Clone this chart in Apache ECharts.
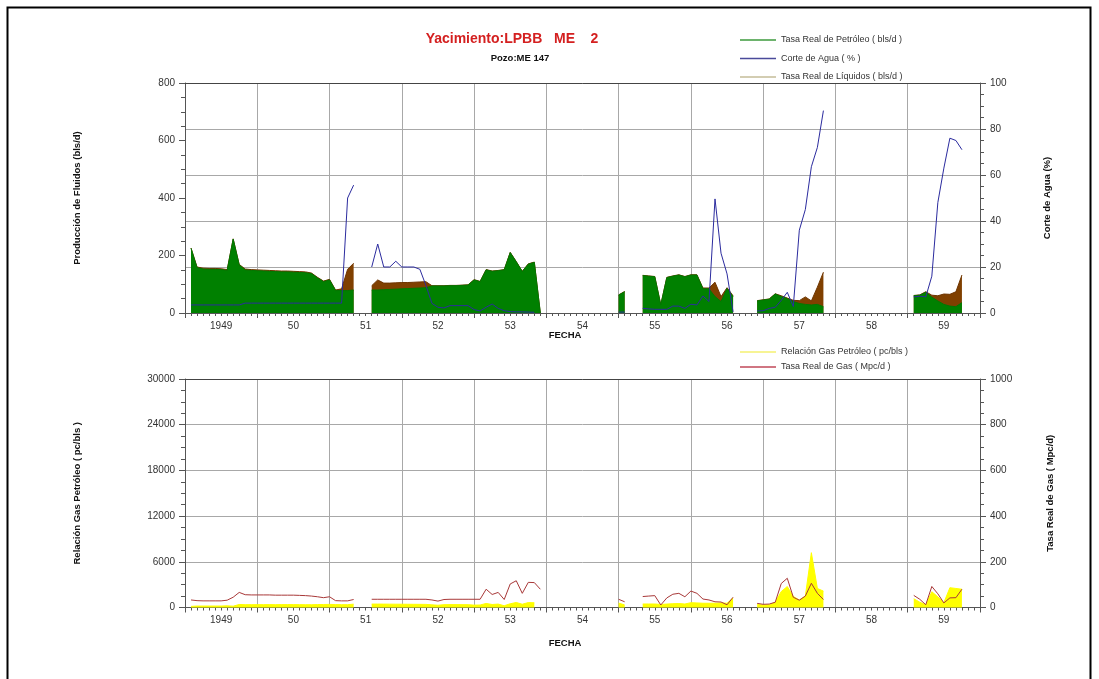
<!DOCTYPE html>
<html>
<head>
<meta charset="utf-8">
<script src="https://cdn.jsdelivr.net/npm/echarts@6/dist/echarts.min.js"></script>
<style>
html,body{margin:0;padding:0;background:#fff;}
#chart{width:1099px;height:679px;}
</style>
</head>
<body>
<div id="chart"></div>
<script>
// ---- Data ----
const yearLabels = ['1949','50','51','52','53','54','55','56','57','58','59'];

const fecha = [
 '1949-02','1949-03','1949-04','1949-05','1949-06','1949-07','1949-08','1949-09','1949-10','1949-11','1949-12',
 '1950-01','1950-02','1950-03','1950-04','1950-05','1950-06','1950-07','1950-08','1950-09','1950-10','1950-11','1950-12',
 '1951-01','1951-02','1951-03','1951-04','1951-05',
 '1951-08','1951-09','1951-10','1951-11','1951-12',
 '1952-01','1952-02','1952-03','1952-04','1952-05','1952-06','1952-07','1952-08','1952-09','1952-10','1952-11','1952-12',
 '1953-01','1953-02','1953-03','1953-04','1953-05','1953-06','1953-07','1953-08','1953-09','1953-10','1953-11','1953-12',
 '1955-01','1955-02',
 '1955-05','1955-06','1955-07','1955-08','1955-09','1955-10','1955-11','1955-12',
 '1956-01','1956-02','1956-03','1956-04','1956-05','1956-06','1956-07','1956-08',
 '1956-12','1957-01','1957-02','1957-03','1957-04','1957-05','1957-06','1957-07','1957-08','1957-09','1957-10','1957-11',
 '1959-02','1959-03','1959-04','1959-05','1959-06','1959-07','1959-08','1959-09','1959-10'
];

// Tasa Real de Petróleo (bls/d)
const petroleo = [
 225,158,153,152,152,151,148,257,167,150,148,147,146,145,144,143,143,142,141,140,137,122,109,115,78,78,78,80,
 80,80,81,82,83,84,85,86,87,88,94,94,94,95,95,96,97,115,109,150,145,147,150,210,178,144,170,176,0,
 62,74,
 130,128,126,28,123,128,132,126,132,132,84,84,57,40,85,57,
 42,45,48,66,57,50,40,33,30,28,30,22,
 60,62,72,55,42,30,24,22,36
];
// Tasa Real de Líquidos (bls/d)
const liquidos = [
 226,160,156,155,155,154,151,258,169,153,151,150,149,148,147,146,146,145,144,143,139,124,111,117,80,84,152,173,
 95,115,104,104,105,106,106,107,108,109,95,95,95,96,96,97,98,116,110,151,146,148,151,211,179,145,171,177,0,
 63,75,
 131,129,127,29,124,129,133,127,133,133,87,87,107,57,88,60,
 43,46,49,67,60,52,44,43,56,42,90,142,
 61,63,74,62,60,66,65,74,132
];
// Corte de Agua (%)
const corteAgua = [
 3.5,3.5,3.5,3.5,3.5,3.5,3.5,3.5,3.5,4.3,4.3,4.3,4.3,4.3,4.3,4.3,4.3,4.3,4.3,4.3,4.3,4.3,4.3,4.3,4.3,4.3,50,55.6,
 20,30,20,20,22.5,20,20,20,19,12,4.2,2.5,2.2,3.2,3.2,3.2,3.2,1.5,0.9,2.5,3.9,2.0,1.0,0.6,0.5,0.5,0.4,0.3,null,
 0.4,0.4,
 2.0,1.8,1.6,1.6,1.6,3.0,3.0,2.0,3.8,3.5,7.4,5.0,49.6,26,17,0.5,
 0.9,1.0,2.0,2.5,5.5,9,2.8,36,45,63.6,72,88,
 7.0,7.3,7.0,16,48,63,76,75,71
];
// Tasa Real de Gas (Mpc/d)
const gas = [
 33,30,29,29,29,29,32,45,66,56,55,55,55,55,54,54,54,54,53,52,50,47,43,47,30,29,29,35,
 36,36,36,36,36,36,36,36,36,36,33,28,35,36,36,36,36,36,36,80,57,66,35,103,117,62,110,109,80,
 36,25,
 48,50,52,11,42,58,62,47,72,62,37,33,25,24,12,45,
 18,14,15,23,105,128,45,32,50,106,62,35,
 53,36,12,92,60,20,42,43,80
];
// Relación Gas Petróleo (pc/bls)
const rgp = [
 147,190,190,191,191,192,216,175,395,373,372,374,377,379,375,378,378,380,376,371,365,385,394,409,385,372,372,438,
 450,450,444,439,434,429,424,419,414,409,351,298,372,379,379,375,371,313,330,533,393,449,233,490,657,431,647,619,null,
 580,340,
 460,460,460,400,450,500,520,460,630,600,560,560,560,600,560,1250,
 400,330,350,700,2100,2750,1450,980,1500,7200,2500,2150,
 1150,700,350,2070,1400,630,2600,2500,2400
];

// ---- Build [x, y] pairs, breaking the line where months are missing ----
function build(vals) {
  const out = [];
  let prev = null;
  fecha.forEach((f, k) => {
    const [y, m] = f.split('-').map(Number);
    const idx = y * 12 + m - 1;
    const x = y + (m - 1) / 12;
    if (prev !== null && idx - prev > 1) out.push([x - 1 / 24, '-']);
    const v = vals[k];
    out.push([x, (v === null || v === undefined) ? '-' : v]);
    prev = idx;
  });
  return out;
}

const FONT = '"Liberation Sans", Arial, sans-serif';
const AXIS_COLOR = '#555';
const GRID_COLOR = '#a8a8a8';
const LBL = { fontFamily: FONT, fontSize: 10, color: '#333' };
const NAME = { fontFamily: FONT, fontSize: 9.5, fontWeight: 'bold', color: '#111' };

function xData(grid) {
  return {
    gridIndex: grid, type: 'value', min: 1949, max: 1960, interval: 1,
    axisLine: { show: true, onZero: false, lineStyle: { color: AXIS_COLOR } },
    axisTick: { show: true, length: 5, lineStyle: { color: AXIS_COLOR } },
    minorTick: { show: true, splitNumber: 12, length: 3, lineStyle: { color: AXIS_COLOR } },
    axisLabel: { show: false },
    splitLine: { show: true, lineStyle: { color: GRID_COLOR, width: 1 } }
  };
}
function xLabels(grid) {
  return {
    gridIndex: grid, type: 'category', data: yearLabels, boundaryGap: true, position: 'bottom',
    axisLine: { show: false }, axisTick: { show: false }, splitLine: { show: false },
    axisLabel: Object.assign({ interval: 0, margin: 8 }, LBL)
  };
}
function xTopFrame(grid) {
  return {
    gridIndex: grid, type: 'value', min: 1949, max: 1960, position: 'top',
    axisLine: { show: true, onZero: false, lineStyle: { color: '#444' } },
    axisTick: { show: false }, axisLabel: { show: false }, splitLine: { show: false }
  };
}
function yAx(grid, pos, max, interval, name, gap, split) {
  return {
    gridIndex: grid, type: 'value', position: pos, min: 0, max: max, interval: interval,
    name: name, nameLocation: 'middle', nameRotate: 90, nameGap: gap, nameTextStyle: NAME,
    axisLine: { show: true, lineStyle: { color: AXIS_COLOR } },
    axisTick: { show: true, length: 6, lineStyle: { color: AXIS_COLOR } },
    minorTick: { show: true, splitNumber: 4, length: 4, lineStyle: { color: AXIS_COLOR } },
    axisLabel: Object.assign({ margin: 10, formatter: v => String(v) }, LBL),
    splitLine: { show: split, lineStyle: { color: GRID_COLOR, width: 1 } }
  };
}

const chart = echarts.init(document.getElementById('chart'), null, { renderer: 'canvas' });
chart.setOption({
  animation: false,
  backgroundColor: '#fff',
  textStyle: { fontFamily: FONT },
  grid: [
    { left: 185, right: 119, top: 83, height: 230 },
    { left: 185, right: 119, top: 379, height: 228.5 }
  ],
  xAxis: [xData(0), xLabels(0), xTopFrame(0), xData(1), xLabels(1), xTopFrame(1)],
  yAxis: [
    yAx(0, 'left', 800, 200, 'Producción de Fluidos (bls/d)', 103, false),
    yAx(0, 'right', 100, 20, 'Corte de Agua (%)', 62, true),
    yAx(1, 'left', 30000, 6000, 'Relación Gas Petróleo ( pc/bls )', 103, false),
    yAx(1, 'right', 1000, 200, 'Tasa Real de Gas ( Mpc/d)', 65, true)
  ],
  legend: [
    {
      orient: 'vertical', left: 735, top: 29, itemWidth: 36, itemHeight: 1.5, itemGap: 6.5,
      selectedMode: false,
      textStyle: { fontFamily: FONT, fontSize: 9, color: '#333', lineHeight: 12 },
      data: [
        { name: 'Tasa Real de Petróleo ( bls/d )', icon: 'rect', itemStyle: { color: '#3c9a3c' } },
        { name: 'Corte de Agua ( % )', icon: 'rect', itemStyle: { color: '#4a4a9a' } },
        { name: 'Tasa Real de Líquidos ( bls/d )', icon: 'rect', itemStyle: { color: '#c4bc98' } }
      ]
    },
    {
      orient: 'vertical', left: 735, top: 341, itemWidth: 36, itemHeight: 1.5, itemGap: 3,
      selectedMode: false,
      textStyle: { fontFamily: FONT, fontSize: 9, color: '#333', lineHeight: 12 },
      data: [
        { name: 'Relación Gas Petróleo ( pc/bls )', icon: 'rect', itemStyle: { color: '#f4f070' } },
        { name: 'Tasa Real de Gas ( Mpc/d )', icon: 'rect', itemStyle: { color: '#c04858' } }
      ]
    }
  ],
  graphic: [
    { type: 'rect', shape: { x: 7.5, y: 7.5, width: 1083, height: 700 }, style: { fill: 'none', stroke: '#000', lineWidth: 2 }, silent: true },
    { type: 'text', x: 512, y: 39, style: { text: 'Yacimiento:LPBB   ME    2', textAlign: 'center', textVerticalAlign: 'middle', font: 'bold 14px ' + FONT, fill: '#d42020' } },
    { type: 'text', x: 520, y: 58, style: { text: 'Pozo:ME 147', textAlign: 'center', textVerticalAlign: 'middle', font: 'bold 9.5px ' + FONT, fill: '#111' } },
    { type: 'text', x: 565, y: 335, style: { text: 'FECHA', textAlign: 'center', textVerticalAlign: 'middle', font: 'bold 9.5px ' + FONT, fill: '#111' } },
    { type: 'text', x: 565, y: 643, style: { text: 'FECHA', textAlign: 'center', textVerticalAlign: 'middle', font: 'bold 9.5px ' + FONT, fill: '#111' } }
  ],
  series: [
    {
      name: 'Tasa Real de Líquidos ( bls/d )', type: 'line', xAxisIndex: 0, yAxisIndex: 0,
      data: build(liquidos), symbol: 'none', connectNulls: false, z: 2,
      lineStyle: { color: '#6e3500', width: 1 }, itemStyle: { color: '#7f3f00' },
      areaStyle: { color: '#804000', opacity: 1 }
    },
    {
      name: 'Tasa Real de Petróleo ( bls/d )', type: 'line', xAxisIndex: 0, yAxisIndex: 0,
      data: build(petroleo), symbol: 'none', connectNulls: false, z: 3,
      lineStyle: { color: '#007800', width: 1 }, itemStyle: { color: '#008000' },
      areaStyle: { color: '#008000', opacity: 1 }
    },
    {
      name: 'Corte de Agua ( % )', type: 'line', xAxisIndex: 0, yAxisIndex: 1,
      data: build(corteAgua), symbol: 'none', connectNulls: false, z: 4,
      lineStyle: { color: '#2b2b9e', width: 1 }, itemStyle: { color: '#2b2b9e' }
    },
    {
      name: 'Relación Gas Petróleo ( pc/bls )', type: 'line', xAxisIndex: 3, yAxisIndex: 2,
      data: build(rgp), symbol: 'none', connectNulls: false, z: 2,
      lineStyle: { color: '#ffff00', width: 1 }, itemStyle: { color: '#ffff00' },
      areaStyle: { color: '#ffff00', opacity: 1 }
    },
    {
      name: 'Tasa Real de Gas ( Mpc/d )', type: 'line', xAxisIndex: 3, yAxisIndex: 3,
      data: build(gas), symbol: 'none', connectNulls: false, z: 3,
      lineStyle: { color: '#a83838', width: 1 }, itemStyle: { color: '#a83838' }
    }
  ]
});
</script>
</body>
</html>
